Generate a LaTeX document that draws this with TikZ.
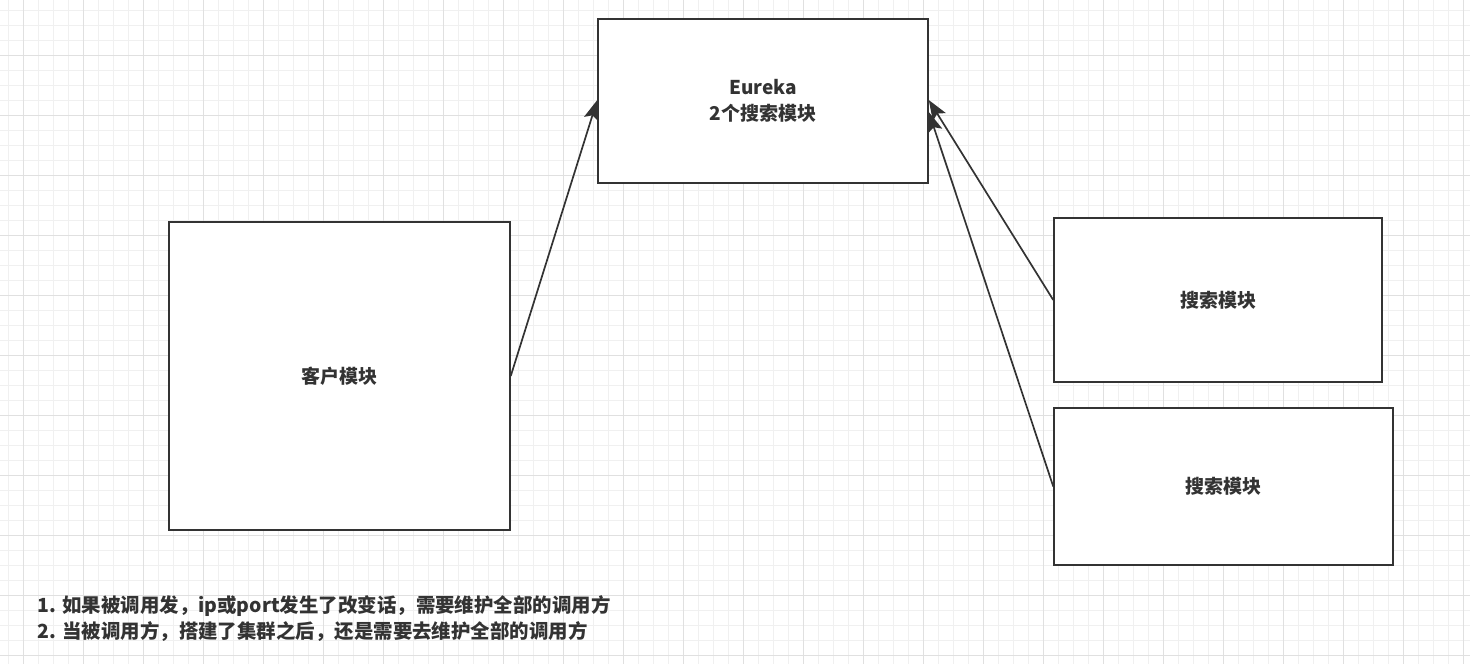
\documentclass[tikz,border=0pt]{standalone}
\usepackage{fontspec}
\setmainfont{Noto Sans CJK SC}
\usetikzlibrary{arrows.meta}
\definecolor{ink}{HTML}{333333}
\definecolor{gridminor}{HTML}{F0F0F0}
\definecolor{gridmajor}{HTML}{E0E0E0}
\begin{document}
\begin{tikzpicture}[
    x=1pt, y=-1pt,
    line width=1.5pt,
    box/.style={rectangle, draw=ink, line width=1.5pt, inner sep=0pt, text=ink,
      font=\fontsize{19}{26}\selectfont\bfseries, align=center},
    link/.style={-{Stealth[length=20pt,width=15pt,inset=4pt]}, draw=ink, line width=1.7pt}
]
  \useasboundingbox (0,0) rectangle (1470,664);
  % grid
  \foreach \gx in {8,23,...,1470} \draw[gridminor, line width=0.8pt] (\gx,0) -- (\gx,664);
  \foreach \gy in {10,25,...,664} \draw[gridminor, line width=0.8pt] (0,\gy) -- (1470,\gy);
  \foreach \gx in {23,83,...,1470} \draw[gridmajor, line width=0.8pt] (\gx,0) -- (\gx,664);
  \foreach \gy in {55,115,...,664} \draw[gridmajor, line width=0.8pt] (0,\gy) -- (1470,\gy);

  % nodes
  \node[box, fill=white, minimum width=330pt, minimum height=164pt] (eureka) at (763,101) {Eureka\\2个搜索模块};
  \node[box, fill=white, minimum width=341pt, minimum height=308pt] (client) at (339.5,376) {客户模块};
  \node[box, fill=white, minimum width=328pt, minimum height=164pt] (search1) at (1218,300) {搜索模块};
  \node[box, fill=white, minimum width=339pt, minimum height=157pt] (search2) at (1223.5,486.5) {搜索模块};

  \node[anchor=west, align=left, text=ink, inner sep=0pt,
    font=\fontsize{19.45}{26}\selectfont\bfseries] (note) at (37,619)
    {1. 如果被调用发，ip或port发生了改变话，需要维护全部的调用方\\
     2. 当被调用方，搭建了集群之后，还是需要去维护全部的调用方};

  % edges
  \draw[link] (client.east) -- ([yshift=1pt]eureka.west);
  \draw[link] (search1.west) -- ([yshift=1pt]eureka.east);
  \draw[link] (search2.west) -- ([yshift=-11pt]eureka.east);
\end{tikzpicture}
\end{document}
